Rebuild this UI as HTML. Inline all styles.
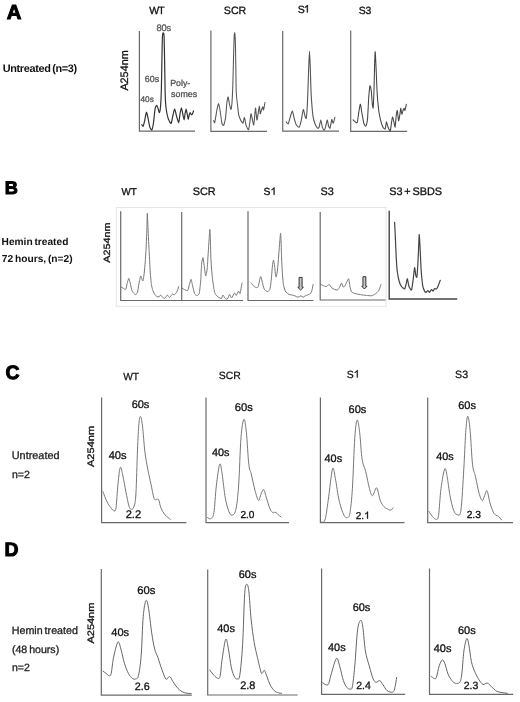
<!DOCTYPE html>
<html><head><meta charset="utf-8"><style>
html,body{margin:0;padding:0;background:#fff;}
svg{display:block;font-family:"Liberation Sans",sans-serif;text-rendering:geometricPrecision;will-change:transform;}
</style></head><body>
<svg width="520" height="702" viewBox="0 0 520 702">
<rect width="520" height="702" fill="#fff"/>
<text x="6.70" y="18.60" font-size="20.27" font-weight="bold" fill="#000" stroke="#000" stroke-width="1.0">A</text>
<text x="149.25" y="13.80" font-size="10.50" font-weight="normal" fill="#111" stroke="#111" stroke-width="0.3" letter-spacing="-0.84">WT</text>
<text x="223.82" y="13.50" font-size="10.60" font-weight="normal" fill="#111" stroke="#111" stroke-width="0.3">SCR</text>
<text x="297.82" y="12.50" font-size="10.50" font-weight="normal" fill="#111" stroke="#111" stroke-width="0.3" letter-spacing="-1.15">S</text>
<polygon points="307.81,12.50 307.81,4.98 307.21,4.98 306.82,5.62 305.98,6.36 304.83,6.88 304.83,7.83 305.77,7.41 306.51,6.93 306.89,6.57 306.89,12.50" fill="#111" stroke="#111" stroke-width="0.3" stroke-linejoin="round"/>
<text x="358.63" y="13.50" font-size="10.41" font-weight="normal" fill="#111" stroke="#111" stroke-width="0.3">S3</text>
<text x="2.65" y="71.60" font-size="10.90" font-weight="bold" fill="#111" letter-spacing="-0.33" word-spacing="-1.0">Untreated (n=3)</text>
<text transform="translate(127.80,90.62) rotate(-90) scale(1.0000,1)" font-size="10.83" font-weight="normal" fill="#111" stroke="#111" stroke-width="0.3">A254nm</text>
<text x="156.50" y="30.60" font-size="9.30" font-weight="normal" fill="#555" stroke="#555" stroke-width="0.3" letter-spacing="-0.18">80s</text>
<text x="144.85" y="82.20" font-size="8.92" font-weight="normal" fill="#555" stroke="#555" stroke-width="0.3">60s</text>
<text x="140.51" y="101.70" font-size="8.24" font-weight="normal" fill="#555" stroke="#555" stroke-width="0.3">40s</text>
<text x="170.28" y="85.80" font-size="8.78" font-weight="normal" fill="#555" stroke="#555" stroke-width="0.3">Poly-</text>
<text x="171.05" y="96.60" font-size="8.88" font-weight="normal" fill="#555" stroke="#555" stroke-width="0.3">somes</text>
<path d="M139.4,31 L139.4,131.1 L195,131.1" fill="none" stroke="#6a6a6a" stroke-width="1.2"/>
<path d="M210.9,30.5 L210.9,131.3 L267,131.3" fill="none" stroke="#6a6a6a" stroke-width="1.2"/>
<path d="M282.7,31 L282.7,131.1 L339,131.1" fill="none" stroke="#6a6a6a" stroke-width="1.2"/>
<path d="M350.7,30.5 L350.7,131.4 L407.2,131.4" fill="none" stroke="#6a6a6a" stroke-width="1.2"/>
<path d="M141.80,124.70 C141.94,124.85 142.90,126.67 143.20,126.20 C143.50,125.73 144.48,121.39 144.80,120.00 C145.12,118.61 146.08,112.50 146.40,112.30 C146.72,112.10 147.66,116.53 148.00,118.00 C148.34,119.47 149.41,125.81 149.80,127.00 C150.19,128.19 151.52,130.40 151.90,129.90 C152.28,129.40 153.29,124.05 153.60,122.00 C153.91,119.95 154.68,111.06 155.00,109.40 C155.32,107.74 156.48,105.44 156.80,105.40 C157.12,105.36 157.94,108.28 158.20,109.00 C158.46,109.72 159.16,112.90 159.40,112.60 C159.64,112.30 160.40,108.46 160.60,106.00 C160.80,103.54 161.26,93.10 161.40,88.00 C161.54,82.90 161.90,60.10 162.00,55.00 C162.10,49.90 162.31,39.18 162.40,37.00 C162.49,34.82 162.78,33.58 162.90,33.20 C163.02,32.82 163.48,32.82 163.60,33.20 C163.72,33.58 164.00,34.32 164.10,37.00 C164.20,39.68 164.50,54.70 164.60,60.00 C164.70,65.30 165.00,85.70 165.10,90.00 C165.20,94.30 165.46,100.90 165.60,103.00 C165.74,105.10 166.26,109.51 166.50,111.00 C166.74,112.49 167.67,116.80 168.00,117.90 C168.33,119.00 169.47,121.46 169.80,122.00 C170.13,122.54 170.98,124.00 171.30,123.30 C171.62,122.60 172.66,116.42 173.00,115.00 C173.34,113.58 174.35,109.00 174.70,109.10 C175.05,109.20 176.10,114.65 176.50,116.00 C176.90,117.35 178.35,122.80 178.70,122.60 C179.05,122.40 179.73,115.48 180.00,114.00 C180.27,112.52 181.12,107.80 181.40,107.80 C181.68,107.80 182.53,112.79 182.80,114.00 C183.07,115.21 183.88,119.90 184.10,119.90 C184.32,119.90 184.80,115.08 185.00,114.00 C185.20,112.92 185.88,109.10 186.10,109.10 C186.32,109.10 186.99,112.99 187.20,114.00 C187.41,115.01 188.00,119.10 188.20,119.20 C188.40,119.30 189.00,115.67 189.20,115.00 C189.40,114.33 190.00,112.55 190.20,112.50 C190.40,112.45 191.00,114.30 191.20,114.50 C191.40,114.70 191.97,114.86 192.20,114.50 C192.43,114.14 193.37,111.26 193.50,110.90" fill="none" stroke="#333" stroke-width="1.2" stroke-linejoin="round" stroke-linecap="round"/>
<path d="M213.75,120.60 C213.85,120.79 214.44,123.56 214.75,122.50 C215.06,121.44 216.53,111.88 216.90,110.00 C217.28,108.12 218.19,103.75 218.50,103.75 C218.81,103.75 219.66,108.06 220.00,110.00 C220.34,111.94 221.53,121.57 221.90,123.10 C222.28,124.62 223.38,125.81 223.75,125.25 C224.12,124.69 225.28,119.78 225.60,117.50 C225.91,115.22 226.65,104.56 226.90,102.50 C227.15,100.44 227.85,96.78 228.10,96.90 C228.35,97.03 229.12,102.50 229.40,103.75 C229.68,105.00 230.65,109.40 230.90,109.40 C231.15,109.40 231.72,105.94 231.90,103.75 C232.09,101.56 232.58,92.38 232.75,87.50 C232.92,82.62 233.45,60.15 233.60,55.00 C233.75,49.85 234.08,38.20 234.20,36.00 C234.31,33.80 234.64,32.60 234.75,33.00 C234.86,33.40 235.20,36.80 235.30,40.00 C235.41,43.20 235.71,59.75 235.80,65.00 C235.90,70.25 236.08,88.50 236.25,92.50 C236.42,96.50 237.25,102.75 237.50,105.00 C237.75,107.25 238.44,113.50 238.75,115.00 C239.06,116.50 240.28,119.31 240.60,120.00 C240.91,120.69 241.65,121.59 241.90,121.90 C242.15,122.21 242.85,123.54 243.10,123.10 C243.35,122.66 244.11,117.31 244.40,117.50 C244.69,117.69 245.59,123.78 246.00,125.00 C246.41,126.22 248.10,130.12 248.50,129.75 C248.90,129.38 249.75,122.85 250.00,121.25 C250.25,119.65 250.75,113.88 251.00,113.75 C251.25,113.62 252.22,118.88 252.50,120.00 C252.78,121.12 253.50,125.75 253.75,125.00 C254.00,124.25 254.81,114.19 255.00,112.50 C255.19,110.81 255.41,107.35 255.60,108.10 C255.79,108.85 256.65,119.44 256.90,120.00 C257.15,120.56 257.85,115.12 258.10,113.75 C258.35,112.38 259.19,106.25 259.40,106.25 C259.61,106.25 260.04,113.38 260.25,113.75 C260.46,114.12 261.25,110.69 261.50,110.00 C261.75,109.31 262.55,106.90 262.75,106.90 C262.95,106.90 263.27,110.44 263.50,110.00 C263.73,109.56 264.85,103.25 265.00,102.50" fill="none" stroke="#555" stroke-width="1.1" stroke-linejoin="round" stroke-linecap="round" stroke-dasharray="1.2 0.5"/>
<path d="M286.20,121.90 C286.41,122.09 287.89,124.31 288.30,123.80 C288.71,123.29 289.89,118.08 290.30,116.80 C290.71,115.52 292.02,110.87 292.40,111.00 C292.78,111.13 293.70,116.69 294.10,118.10 C294.50,119.51 295.89,124.20 296.40,125.10 C296.91,126.00 298.72,127.55 299.20,127.10 C299.68,126.65 300.79,122.36 301.20,120.60 C301.61,118.84 302.92,109.94 303.30,109.50 C303.68,109.06 304.70,115.34 305.00,116.20 C305.30,117.06 306.06,119.32 306.30,118.10 C306.54,116.88 307.22,107.31 307.40,104.00 C307.58,100.69 307.96,88.90 308.10,85.00 C308.24,81.10 308.66,68.38 308.80,65.00 C308.94,61.62 309.36,51.20 309.50,51.20 C309.64,51.20 310.07,61.62 310.20,65.00 C310.33,68.38 310.67,81.50 310.80,85.00 C310.93,88.50 311.27,96.82 311.50,100.00 C311.73,103.18 312.72,114.35 313.10,116.80 C313.48,119.25 314.83,123.35 315.30,124.50 C315.77,125.65 317.42,128.05 317.80,128.30 C318.18,128.55 318.80,127.83 319.10,127.00 C319.40,126.17 320.48,119.99 320.80,120.00 C321.12,120.01 321.96,126.07 322.30,127.10 C322.64,128.13 323.88,130.30 324.20,130.30 C324.52,130.30 325.20,128.13 325.50,127.10 C325.80,126.07 326.90,120.13 327.20,120.00 C327.50,119.87 328.22,124.97 328.50,125.80 C328.78,126.63 329.72,128.69 330.00,128.30 C330.28,127.91 331.11,122.79 331.30,121.90 C331.49,121.01 331.71,119.27 331.90,119.40 C332.09,119.53 332.90,123.40 333.20,123.20 C333.50,123.00 334.73,117.98 334.90,117.40" fill="none" stroke="#555" stroke-width="1.1" stroke-linejoin="round" stroke-linecap="round"/>
<path d="M353.10,119.90 C353.29,120.07 354.59,121.34 355.00,121.60 C355.41,121.86 356.81,123.50 357.20,122.50 C357.59,121.50 358.58,113.43 358.90,111.60 C359.22,109.77 360.08,103.94 360.40,104.20 C360.72,104.46 361.74,112.24 362.10,114.20 C362.46,116.16 363.62,122.62 364.00,123.80 C364.38,124.98 365.55,126.45 365.90,126.00 C366.25,125.55 367.21,122.28 367.50,119.30 C367.79,116.32 368.55,99.56 368.80,96.20 C369.05,92.84 369.75,86.21 370.00,85.70 C370.25,85.19 371.07,89.28 371.30,91.10 C371.53,92.92 372.11,102.23 372.30,103.90 C372.49,105.57 373.03,109.21 373.20,107.80 C373.37,106.39 373.86,94.16 374.00,89.80 C374.14,85.44 374.48,68.01 374.60,64.20 C374.72,60.39 375.07,51.70 375.20,51.70 C375.33,51.70 375.70,60.00 375.90,64.20 C376.10,68.40 376.92,89.09 377.20,93.70 C377.48,98.31 378.35,107.61 378.70,110.30 C379.05,112.99 380.29,118.93 380.70,120.60 C381.11,122.27 382.35,126.17 382.80,127.00 C383.25,127.83 384.84,129.41 385.20,128.90 C385.56,128.39 386.12,122.09 386.40,121.90 C386.68,121.71 387.61,126.11 388.00,127.00 C388.39,127.89 389.94,131.31 390.30,130.80 C390.66,130.29 391.37,123.28 391.60,121.90 C391.83,120.52 392.37,117.00 392.60,117.00 C392.83,117.00 393.65,120.90 393.90,121.90 C394.15,122.90 394.85,127.77 395.10,127.00 C395.35,126.23 396.18,115.84 396.40,114.20 C396.62,112.56 397.08,109.96 397.30,110.60 C397.52,111.24 398.34,120.24 398.60,120.60 C398.86,120.96 399.68,115.42 399.90,114.20 C400.12,112.98 400.61,108.40 400.80,108.40 C400.99,108.40 401.57,114.01 401.80,114.20 C402.03,114.39 402.88,110.88 403.10,110.30 C403.32,109.72 403.81,108.40 404.00,108.40 C404.19,108.40 404.77,110.72 405.00,110.30 C405.23,109.88 406.17,104.81 406.30,104.20" fill="none" stroke="#444" stroke-width="1.1" stroke-linejoin="round" stroke-linecap="round" stroke-dasharray="1.2 0.5"/>
<text x="4.78" y="193.90" font-size="18.20" font-weight="bold" fill="#000" stroke="#000" stroke-width="1.0">B</text>
<text x="121.56" y="195.20" font-size="9.82" font-weight="normal" fill="#111" stroke="#111" stroke-width="0.3">WT</text>
<text x="192.71" y="195.20" font-size="10.89" font-weight="normal" fill="#111" stroke="#111" stroke-width="0.3">SCR</text>
<text x="263.53" y="194.80" font-size="10.36" font-weight="normal" fill="#111" stroke="#111" stroke-width="0.3">S</text>
<polygon points="274.53,194.80 274.53,187.38 273.93,187.38 273.55,188.01 272.72,188.74 271.58,189.26 271.58,190.19 272.51,189.77 273.24,189.31 273.61,188.94 273.61,194.80" fill="#111" stroke="#111" stroke-width="0.3" stroke-linejoin="round"/>
<text x="320.61" y="195.00" font-size="10.85" font-weight="normal" fill="#111" stroke="#111" stroke-width="0.3">S3</text>
<text x="389.21" y="195.00" font-size="10.87" font-weight="normal" fill="#111" stroke="#111" stroke-width="0.3" word-spacing="-1.2">S3 + SBDS</text>
<text x="1.62" y="245.00" font-size="10.16" font-weight="bold" fill="#111" word-spacing="-1.0">Hemin treated</text>
<text x="1.86" y="262.10" font-size="10.20" font-weight="bold" fill="#111" word-spacing="-1.0">72 hours, (n=2)</text>
<text transform="translate(110.20,262.72) rotate(-90) scale(1.1765,1)" font-size="9.16" font-weight="normal" fill="#111" stroke="#111" stroke-width="0.3">A254nm</text>
<rect x="116.2" y="207.5" width="269.8" height="98.8" fill="none" stroke="#e6e6e6" stroke-width="1"/>
<path d="M120.7,211.2 L120.7,300.5 L181,300.5" fill="none" stroke="#6a6a6a" stroke-width="1.2"/>
<path d="M181.7,212 L181.7,300.5 L243,300.5" fill="none" stroke="#6a6a6a" stroke-width="1.2"/>
<path d="M248,211.2 L248,300.5 L313.6,300.5" fill="none" stroke="#6a6a6a" stroke-width="1.2"/>
<path d="M320.2,212 L320.2,300 L385.5,300" fill="none" stroke="#6a6a6a" stroke-width="1.2"/>
<path d="M389.2,210.8 L389.2,299 L457.2,299" fill="none" stroke="#444" stroke-width="1.4"/>
<path d="M120.70,286.70 C120.95,286.85 122.69,287.93 123.20,288.20 C123.71,288.47 125.42,289.84 125.80,289.40 C126.18,288.96 126.70,284.89 127.00,283.80 C127.30,282.71 128.48,278.58 128.80,278.50 C129.12,278.42 129.86,281.73 130.20,283.00 C130.54,284.27 131.70,290.05 132.20,291.20 C132.70,292.35 134.68,294.35 135.20,294.50 C135.72,294.65 137.03,293.77 137.40,292.70 C137.77,291.63 138.57,285.47 138.90,283.80 C139.23,282.13 140.40,276.45 140.70,276.00 C141.00,275.55 141.67,278.82 141.90,279.30 C142.13,279.78 142.77,281.40 143.00,280.80 C143.23,280.20 143.98,275.20 144.20,273.30 C144.42,271.40 145.02,264.08 145.20,261.80 C145.38,259.52 145.87,252.78 146.00,250.50 C146.13,248.22 146.41,241.28 146.50,239.00 C146.59,236.72 146.82,230.27 146.90,227.70 C146.98,225.13 147.19,213.30 147.30,213.30 C147.41,213.30 147.88,225.13 148.00,227.70 C148.12,230.27 148.39,236.72 148.50,239.00 C148.61,241.28 148.98,248.22 149.10,250.50 C149.22,252.78 149.58,259.55 149.70,261.80 C149.82,264.05 150.13,270.73 150.30,273.00 C150.47,275.27 151.17,282.85 151.40,284.50 C151.63,286.15 152.28,288.53 152.60,289.50 C152.92,290.47 154.17,293.50 154.60,294.20 C155.03,294.90 156.45,296.23 156.90,296.50 C157.35,296.77 158.73,297.05 159.10,296.90 C159.47,296.75 160.25,294.97 160.60,295.00 C160.95,295.03 162.20,296.86 162.60,297.20 C163.00,297.54 164.25,298.47 164.60,298.40 C164.95,298.33 165.83,296.84 166.10,296.50 C166.37,296.16 166.95,294.90 167.30,295.00 C167.65,295.10 169.22,297.43 169.60,297.50 C169.98,297.57 170.80,296.06 171.10,295.70 C171.40,295.34 172.30,293.97 172.60,293.90 C172.90,293.83 173.73,295.12 174.10,295.00 C174.47,294.88 175.93,293.23 176.30,292.70 C176.67,292.17 177.57,290.30 177.80,289.70 C178.03,289.10 178.52,287.00 178.60,286.70" fill="none" stroke="#777" stroke-width="1.0" stroke-linejoin="round" stroke-linecap="round"/>
<path d="M182.20,288.20 C182.45,288.35 184.15,289.47 184.70,289.70 C185.25,289.93 187.25,290.94 187.70,290.50 C188.15,290.06 188.87,286.42 189.20,285.30 C189.53,284.18 190.67,279.30 191.00,279.30 C191.33,279.30 192.15,283.88 192.50,285.30 C192.85,286.72 194.08,292.49 194.50,293.50 C194.92,294.51 196.23,295.40 196.70,295.40 C197.17,295.40 198.80,294.96 199.20,293.50 C199.60,292.04 200.46,283.72 200.70,280.80 C200.94,277.88 201.37,266.62 201.60,264.30 C201.83,261.98 202.74,257.45 203.00,257.60 C203.26,257.75 203.93,263.96 204.20,265.80 C204.47,267.64 205.40,275.70 205.70,276.00 C206.00,276.30 206.97,270.80 207.20,268.80 C207.43,266.80 207.84,258.48 208.00,256.00 C208.16,253.52 208.66,246.10 208.80,244.00 C208.94,241.90 209.29,236.46 209.40,235.00 C209.51,233.54 209.80,228.90 209.90,229.40 C210.00,229.90 210.31,237.34 210.40,240.00 C210.49,242.66 210.69,253.20 210.80,256.00 C210.91,258.80 211.33,265.72 211.50,268.00 C211.67,270.28 212.23,276.58 212.50,278.80 C212.77,281.02 213.91,288.66 214.20,290.20 C214.49,291.74 214.98,293.50 215.40,294.20 C215.82,294.90 217.80,296.78 218.40,297.20 C219.00,297.62 220.95,298.62 221.40,298.40 C221.85,298.18 222.53,295.00 222.90,295.00 C223.27,295.00 224.65,298.00 225.10,298.40 C225.55,298.80 226.95,299.39 227.40,299.00 C227.85,298.61 229.19,294.60 229.60,294.50 C230.01,294.40 231.01,298.15 231.50,298.00 C231.99,297.85 234.02,293.26 234.50,293.00 C234.98,292.74 235.89,295.58 236.30,295.40 C236.71,295.22 238.22,291.39 238.60,291.20 C238.98,291.01 239.76,294.32 240.10,293.50 C240.44,292.68 241.81,284.05 242.00,283.00" fill="none" stroke="#777" stroke-width="1.0" stroke-linejoin="round" stroke-linecap="round"/>
<path d="M251.20,283.00 C251.41,283.26 252.82,285.15 253.30,285.60 C253.78,286.05 255.51,287.38 256.00,287.50 C256.49,287.62 257.83,287.62 258.20,286.80 C258.57,285.98 259.43,280.32 259.70,279.30 C259.97,278.28 260.64,276.30 260.90,276.60 C261.16,276.90 261.97,281.06 262.30,282.30 C262.63,283.54 263.71,288.07 264.20,289.00 C264.69,289.93 266.65,291.52 267.20,291.60 C267.75,291.68 269.34,290.56 269.70,289.80 C270.06,289.04 270.61,285.38 270.80,284.00 C270.99,282.62 271.44,277.80 271.60,276.00 C271.76,274.20 272.21,267.59 272.40,266.00 C272.59,264.41 273.28,260.10 273.50,260.10 C273.72,260.10 274.42,264.71 274.60,266.00 C274.78,267.29 275.15,271.89 275.30,273.00 C275.45,274.11 275.91,277.20 276.10,277.10 C276.29,277.00 276.99,273.51 277.20,272.00 C277.41,270.49 278.01,264.20 278.20,262.00 C278.39,259.80 278.93,252.20 279.10,250.00 C279.27,247.80 279.75,241.68 279.90,240.00 C280.05,238.32 280.48,233.00 280.60,233.20 C280.72,233.40 281.00,239.52 281.10,242.00 C281.20,244.48 281.48,255.00 281.60,258.00 C281.72,261.00 282.11,269.27 282.30,272.00 C282.49,274.73 283.14,283.30 283.50,285.30 C283.86,287.30 285.36,291.10 285.90,292.00 C286.44,292.90 288.30,294.00 288.90,294.30 C289.50,294.60 291.30,294.85 291.90,295.00 C292.50,295.15 294.30,295.58 294.90,295.80 C295.50,296.02 297.30,297.20 297.90,297.20 C298.50,297.20 300.38,295.80 300.90,295.80 C301.42,295.80 302.66,297.20 303.10,297.20 C303.54,297.20 304.85,296.02 305.30,295.80 C305.75,295.58 307.07,295.23 307.60,295.00 C308.13,294.77 310.15,294.02 310.60,293.50 C311.05,292.98 311.85,290.70 312.10,289.80 C312.35,288.90 313.00,285.03 313.10,284.50" fill="none" stroke="#777" stroke-width="1.0" stroke-linejoin="round" stroke-linecap="round"/>
<path d="M320.20,283.80 C320.43,283.96 321.89,285.13 322.50,285.40 C323.11,285.67 325.64,286.58 326.30,286.50 C326.96,286.42 328.56,284.48 329.10,284.60 C329.64,284.72 331.13,287.21 331.70,287.70 C332.27,288.19 334.23,289.27 334.80,289.50 C335.37,289.73 336.94,290.18 337.40,290.00 C337.86,289.82 339.00,288.39 339.40,287.70 C339.80,287.01 341.02,283.18 341.40,283.10 C341.78,283.02 342.86,286.59 343.20,286.90 C343.54,287.21 344.49,286.58 344.80,286.20 C345.11,285.82 345.92,283.84 346.30,283.10 C346.68,282.36 348.21,278.34 348.60,278.80 C348.99,279.26 349.89,286.38 350.20,287.70 C350.51,289.02 351.24,291.42 351.70,292.00 C352.16,292.58 353.95,293.24 354.80,293.50 C355.65,293.76 359.05,294.41 360.20,294.60 C361.35,294.79 365.15,295.29 366.30,295.40 C367.45,295.51 370.78,295.86 371.70,295.70 C372.62,295.54 374.81,294.29 375.50,293.80 C376.19,293.31 378.13,291.49 378.60,290.80 C379.07,290.11 379.97,287.52 380.20,286.90 C380.43,286.28 380.83,284.83 380.90,284.60" fill="none" stroke="#777" stroke-width="1.0" stroke-linejoin="round" stroke-linecap="round"/>
<path d="M394.60,222.30 C394.68,223.92 395.24,235.04 395.40,238.50 C395.56,241.96 396.02,253.67 396.20,256.90 C396.38,260.13 396.90,268.34 397.20,270.80 C397.50,273.26 398.77,279.93 399.20,281.50 C399.63,283.07 400.96,285.76 401.50,286.50 C402.04,287.24 404.13,289.17 404.60,288.90 C405.07,288.63 405.92,284.81 406.20,283.80 C406.48,282.79 407.13,278.56 407.40,278.80 C407.67,279.04 408.49,285.08 408.90,286.20 C409.31,287.32 411.08,290.62 411.50,290.00 C411.92,289.38 412.79,282.23 413.10,280.00 C413.41,277.77 414.33,268.16 414.60,267.70 C414.87,267.24 415.57,274.48 415.80,275.40 C416.03,276.32 416.68,278.29 416.90,276.90 C417.12,275.51 417.81,264.88 418.00,261.50 C418.19,258.12 418.68,245.79 418.80,243.10 C418.92,240.41 419.08,234.29 419.20,234.60 C419.32,234.91 419.81,242.74 420.00,246.20 C420.19,249.66 420.82,265.20 421.10,269.20 C421.38,273.20 422.45,284.01 422.80,286.20 C423.15,288.39 424.26,290.49 424.60,291.10 C424.94,291.71 425.86,292.36 426.20,292.30 C426.54,292.24 427.67,290.50 428.00,290.50 C428.33,290.50 429.15,292.40 429.50,292.30 C429.85,292.20 431.14,289.62 431.50,289.50 C431.86,289.38 432.79,291.20 433.10,291.10 C433.41,291.00 434.29,288.69 434.60,288.50 C434.91,288.31 435.89,289.36 436.20,289.20 C436.51,289.04 437.40,287.51 437.70,286.90 C438.00,286.29 438.94,283.76 439.20,283.10 C439.46,282.44 440.19,280.58 440.30,280.30" fill="none" stroke="#444" stroke-width="1.2" stroke-linejoin="round" stroke-linecap="round"/>
<path d="M299.10,277.4 L302.10,277.4 L302.10,287.3 L303.40,287.3 L300.60,290.0 L297.80,287.3 L299.10,287.3 Z" fill="#c8c8c8" stroke="#333" stroke-width="1.0" stroke-linejoin="miter"/>
<path d="M362.95,276.7 L365.85,276.7 L365.85,286.3 L367.00,286.3 L364.40,289.0 L361.80,286.3 L362.95,286.3 Z" fill="#c8c8c8" stroke="#333" stroke-width="1.0" stroke-linejoin="miter"/>
<text x="5.50" y="378.90" font-size="19.40" font-weight="bold" fill="#000" stroke="#000" stroke-width="1.0">C</text>
<text x="123.16" y="379.90" font-size="10.21" font-weight="normal" fill="#111" stroke="#111" stroke-width="0.25">WT</text>
<text x="218.73" y="378.60" font-size="10.45" font-weight="normal" fill="#111" stroke="#111" stroke-width="0.25">SCR</text>
<text x="346.63" y="377.60" font-size="10.45" font-weight="normal" fill="#111" stroke="#111" stroke-width="0.25">S</text>
<polygon points="357.72,377.60 357.72,370.12 357.12,370.12 356.73,370.75 355.90,371.49 354.75,372.01 354.75,372.95 355.69,372.53 356.42,372.06 356.80,371.69 356.80,377.60" fill="#111" stroke="#111" stroke-width="0.25" stroke-linejoin="round"/>
<text x="455.12" y="377.90" font-size="10.58" font-weight="normal" fill="#111" stroke="#111" stroke-width="0.25">S3</text>
<text x="11.76" y="458.80" font-size="10.89" font-weight="normal" fill="#222" stroke="#222" stroke-width="0.3">Untreated</text>
<text x="11.90" y="478.20" font-size="10.57" font-weight="normal" fill="#222" stroke="#222" stroke-width="0.3">n=2</text>
<text transform="translate(94.00,467.02) rotate(-90) scale(1.1628,1)" font-size="9.52" font-weight="normal" fill="#111" stroke="#111" stroke-width="0.3">A254nm</text>
<text x="131.64" y="408.00" font-size="11.01" font-weight="normal" fill="#111" stroke="#111" stroke-width="0.3">60s</text>
<text x="108.64" y="458.90" font-size="11.14" font-weight="normal" fill="#111" stroke="#111" stroke-width="0.3">40s</text>
<text x="125.64" y="517.70" font-size="11.17" font-weight="normal" fill="#111" stroke="#111" stroke-width="0.3">2.2</text>
<text x="234.73" y="411.40" font-size="11.21" font-weight="normal" fill="#111" stroke="#111" stroke-width="0.3">60s</text>
<text x="212.05" y="455.70" font-size="10.82" font-weight="normal" fill="#111" stroke="#111" stroke-width="0.3">40s</text>
<text x="240.39" y="518.00" font-size="10.15" font-weight="normal" fill="#111" stroke="#111" stroke-width="0.3">2.0</text>
<text x="348.54" y="413.30" font-size="11.01" font-weight="normal" fill="#111" stroke="#111" stroke-width="0.3">60s</text>
<text x="324.55" y="462.30" font-size="10.88" font-weight="normal" fill="#111" stroke="#111" stroke-width="0.3">40s</text>
<text x="355.80" y="518.70" font-size="9.91" font-weight="normal" fill="#111" stroke="#111" stroke-width="0.3">2.</text>
<polygon points="367.98,518.70 367.98,511.60 367.41,511.60 367.04,512.21 366.25,512.90 365.16,513.40 365.16,514.29 366.05,513.89 366.75,513.45 367.10,513.10 367.10,518.70" fill="#111" stroke="#111" stroke-width="0.3" stroke-linejoin="round"/>
<text x="458.24" y="408.50" font-size="11.01" font-weight="normal" fill="#111" stroke="#111" stroke-width="0.3">60s</text>
<text x="436.25" y="459.80" font-size="10.82" font-weight="normal" fill="#111" stroke="#111" stroke-width="0.3">40s</text>
<text x="466.68" y="518.00" font-size="10.26" font-weight="normal" fill="#111" stroke="#111" stroke-width="0.3">2.3</text>
<path d="M101.6,397.6 L101.6,522.6 L186.4,522.6" fill="none" stroke="#6a6a6a" stroke-width="1.2"/>
<path d="M206,397.6 L206,522.6 L289,522.6" fill="none" stroke="#6a6a6a" stroke-width="1.2"/>
<path d="M320.4,397.6 L320.4,522.6 L404.5,522.6" fill="none" stroke="#6a6a6a" stroke-width="1.2"/>
<path d="M427.7,397.6 L427.7,522.6 L513,522.6" fill="none" stroke="#6a6a6a" stroke-width="1.2"/>
<path d="M103.00,491.80 C103.67,493.47 105.67,499.13 107.00,501.80 C108.33,504.47 109.83,506.30 111.00,507.80 C112.17,509.30 113.17,510.80 114.00,510.80 C114.83,510.80 115.33,512.30 116.00,507.80 C116.67,503.30 117.28,490.53 118.00,483.80 C118.72,477.07 119.48,468.73 120.30,467.40 C121.12,466.07 121.97,471.73 122.90,475.80 C123.83,479.87 124.90,486.80 125.90,491.80 C126.90,496.80 128.07,502.90 128.90,505.80 C129.73,508.70 130.07,509.03 130.90,509.20 C131.73,509.37 133.07,509.37 133.90,506.80 C134.73,504.23 135.30,503.28 135.90,493.80 C136.50,484.32 137.00,461.55 137.50,449.90 C138.00,438.25 138.40,429.47 138.90,423.90 C139.40,418.33 139.90,416.17 140.50,416.50 C141.10,416.83 141.77,420.00 142.50,425.90 C143.23,431.80 144.00,444.58 144.90,451.90 C145.80,459.22 146.90,464.48 147.90,469.80 C148.90,475.12 149.90,479.13 150.90,483.80 C151.90,488.47 153.07,495.13 153.90,497.80 C154.73,500.47 155.13,499.53 155.90,499.80 C156.67,500.07 157.67,498.07 158.50,499.40 C159.33,500.73 159.83,505.25 160.90,507.80 C161.97,510.35 163.32,512.78 164.90,514.70 C166.48,516.62 169.48,518.53 170.40,519.30" fill="none" stroke="#777" stroke-width="1.0" stroke-linejoin="round" stroke-linecap="round"/>
<path d="M207.60,517.50 C208.12,517.70 209.65,519.50 210.70,518.70 C211.75,517.90 212.97,518.15 213.90,512.70 C214.83,507.25 215.33,494.08 216.30,486.00 C217.27,477.92 218.73,466.22 219.70,464.20 C220.67,462.18 221.17,468.25 222.10,473.90 C223.03,479.55 224.17,491.85 225.30,498.10 C226.43,504.35 227.82,508.57 228.90,511.40 C229.98,514.23 230.67,515.30 231.80,515.10 C232.93,514.90 234.57,515.05 235.70,510.20 C236.83,505.35 237.72,498.12 238.60,486.00 C239.48,473.88 240.12,448.60 241.00,437.50 C241.88,426.40 243.00,420.20 243.90,419.40 C244.80,418.60 245.58,425.23 246.40,432.70 C247.22,440.17 248.00,457.33 248.80,464.20 C249.60,471.07 250.15,469.47 251.20,473.90 C252.25,478.33 253.88,486.37 255.10,490.80 C256.32,495.23 257.53,499.88 258.50,500.50 C259.47,501.12 260.05,496.32 260.90,494.50 C261.75,492.68 262.67,489.00 263.60,489.60 C264.53,490.20 265.42,494.87 266.50,498.10 C267.58,501.33 269.02,506.57 270.10,509.00 C271.18,511.43 272.18,512.17 273.00,512.70 C273.82,513.23 274.27,512.00 275.00,512.20 C275.73,512.40 276.40,513.10 277.40,513.90 C278.40,514.70 280.40,516.48 281.00,517.00" fill="none" stroke="#777" stroke-width="1.0" stroke-linejoin="round" stroke-linecap="round"/>
<path d="M321.60,521.90 C322.17,521.57 323.90,523.47 325.00,519.90 C326.10,516.33 326.95,508.98 328.20,500.50 C329.45,492.02 331.30,472.63 332.50,469.00 C333.70,465.37 334.30,473.45 335.40,478.70 C336.50,483.95 337.68,494.43 339.10,500.50 C340.52,506.57 342.48,512.27 343.90,515.10 C345.32,517.93 346.58,517.90 347.60,517.50 C348.62,517.10 349.20,517.55 350.00,512.70 C350.80,507.85 351.60,500.93 352.40,488.40 C353.20,475.87 354.00,448.88 354.80,437.50 C355.60,426.12 356.38,420.90 357.20,420.10 C358.02,419.30 358.88,426.17 359.70,432.70 C360.52,439.23 361.10,452.83 362.10,459.30 C363.10,465.77 364.48,466.65 365.70,471.50 C366.92,476.35 368.27,484.37 369.40,488.40 C370.53,492.43 371.30,495.78 372.50,495.70 C373.70,495.62 375.30,487.10 376.60,487.90 C377.90,488.70 379.08,497.38 380.30,500.50 C381.52,503.62 382.70,505.18 383.90,506.60 C385.10,508.02 386.37,508.40 387.50,509.00 C388.63,509.60 389.80,510.40 390.70,510.20 C391.60,510.00 392.53,508.20 392.90,507.80" fill="none" stroke="#777" stroke-width="1.0" stroke-linejoin="round" stroke-linecap="round"/>
<path d="M428.90,511.40 C429.47,512.22 431.08,514.97 432.30,516.30 C433.52,517.63 435.15,519.60 436.20,519.40 C437.25,519.20 437.80,520.27 438.60,515.10 C439.40,509.93 439.98,496.08 441.00,488.40 C442.02,480.72 443.68,471.02 444.70,469.00 C445.72,466.98 446.22,471.85 447.10,476.30 C447.98,480.75 448.92,490.05 450.00,495.70 C451.08,501.35 452.40,507.05 453.60,510.20 C454.80,513.35 455.98,514.60 457.20,514.60 C458.42,514.60 459.80,517.80 460.90,510.20 C462.00,502.60 463.00,481.92 463.80,469.00 C464.60,456.08 465.05,441.50 465.70,432.70 C466.35,423.90 466.97,416.60 467.70,416.20 C468.43,415.80 469.30,422.30 470.10,430.30 C470.90,438.30 471.62,456.53 472.50,464.20 C473.38,471.87 474.30,471.45 475.40,476.30 C476.50,481.15 477.97,489.27 479.10,493.30 C480.23,497.33 481.28,500.10 482.20,500.50 C483.12,500.90 483.78,497.32 484.60,495.70 C485.42,494.08 486.20,489.58 487.10,490.80 C488.00,492.02 488.92,499.35 490.00,503.00 C491.08,506.65 492.60,510.68 493.60,512.70 C494.60,514.72 495.20,514.50 496.00,515.10 C496.80,515.70 497.47,515.50 498.40,516.30 C499.33,517.10 501.07,519.30 501.60,519.90" fill="none" stroke="#777" stroke-width="1.0" stroke-linejoin="round" stroke-linecap="round"/>
<text x="4.50" y="556.10" font-size="19.40" font-weight="bold" fill="#000" stroke="#000" stroke-width="1.0">D</text>
<text x="11.72" y="634.20" font-size="10.71" font-weight="normal" fill="#222" stroke="#222" stroke-width="0.3" word-spacing="-1.0">Hemin treated</text>
<text x="11.94" y="653.00" font-size="10.58" font-weight="normal" fill="#222" stroke="#222" stroke-width="0.3" word-spacing="-1.0">(48 hours)</text>
<text x="11.90" y="671.30" font-size="10.57" font-weight="normal" fill="#222" stroke="#222" stroke-width="0.3">n=2</text>
<text transform="translate(93.90,643.52) rotate(-90) scale(1.1765,1)" font-size="9.32" font-weight="normal" fill="#111" stroke="#111" stroke-width="0.3">A254nm</text>
<text x="137.23" y="594.00" font-size="11.28" font-weight="normal" fill="#111" stroke="#111" stroke-width="0.3">60s</text>
<text x="111.25" y="635.90" font-size="11.07" font-weight="normal" fill="#111" stroke="#111" stroke-width="0.3">40s</text>
<text x="134.86" y="689.60" font-size="10.80" font-weight="normal" fill="#111" stroke="#111" stroke-width="0.3">2.6</text>
<text x="238.74" y="578.00" font-size="10.95" font-weight="normal" fill="#111" stroke="#111" stroke-width="0.3">60s</text>
<text x="217.25" y="631.90" font-size="10.94" font-weight="normal" fill="#111" stroke="#111" stroke-width="0.3">40s</text>
<text x="240.25" y="689.00" font-size="10.95" font-weight="normal" fill="#111" stroke="#111" stroke-width="0.3">2.8</text>
<text x="352.64" y="611.40" font-size="11.01" font-weight="normal" fill="#111" stroke="#111" stroke-width="0.3">60s</text>
<text x="328.05" y="650.50" font-size="10.88" font-weight="normal" fill="#111" stroke="#111" stroke-width="0.3">40s</text>
<text x="356.27" y="689.00" font-size="10.53" font-weight="normal" fill="#111" stroke="#111" stroke-width="0.3">2.4</text>
<text x="457.94" y="633.60" font-size="11.01" font-weight="normal" fill="#111" stroke="#111" stroke-width="0.3">60s</text>
<text x="433.75" y="652.00" font-size="10.94" font-weight="normal" fill="#111" stroke="#111" stroke-width="0.3">40s</text>
<text x="463.67" y="689.00" font-size="10.49" font-weight="normal" fill="#111" stroke="#111" stroke-width="0.3">2.3</text>
<path d="M101.3,569.1 L101.3,695.1 L191.8,695.1" fill="none" stroke="#6a6a6a" stroke-width="1.2"/>
<path d="M207.7,569.5 L207.7,695 L297.6,695" fill="none" stroke="#6a6a6a" stroke-width="1.2"/>
<path d="M321.6,568.5 L321.6,694.4 L405.2,694.4" fill="none" stroke="#6a6a6a" stroke-width="1.2"/>
<path d="M429.5,568.5 L429.5,694.4 L513.2,694.4" fill="none" stroke="#6a6a6a" stroke-width="1.2"/>
<path d="M103.10,671.30 C103.60,671.65 105.08,672.65 106.10,673.40 C107.12,674.15 108.35,675.80 109.20,675.80 C110.05,675.80 110.47,676.50 111.20,673.40 C111.93,670.30 112.48,662.43 113.60,657.20 C114.72,651.97 116.68,643.35 117.90,642.00 C119.12,640.65 119.82,645.57 120.90,649.10 C121.98,652.63 123.15,659.15 124.40,663.20 C125.65,667.25 127.07,670.87 128.40,673.40 C129.73,675.93 131.22,677.47 132.40,678.40 C133.58,679.33 134.48,679.50 135.50,679.00 C136.52,678.50 137.55,679.38 138.50,675.40 C139.45,671.42 140.42,664.88 141.20,655.10 C141.98,645.32 142.40,625.80 143.20,616.70 C144.00,607.60 145.10,601.85 146.00,600.50 C146.90,599.15 147.65,603.20 148.60,608.60 C149.55,614.00 150.68,626.15 151.70,632.90 C152.72,639.65 153.68,645.05 154.70,649.10 C155.72,653.15 156.62,653.83 157.80,657.20 C158.98,660.57 160.45,665.67 161.80,669.30 C163.15,672.93 164.82,677.65 165.90,679.00 C166.98,680.35 167.57,677.73 168.30,677.40 C169.03,677.07 169.53,676.32 170.30,677.00 C171.07,677.68 171.62,679.58 172.90,681.50 C174.18,683.42 176.13,686.65 178.00,688.50 C179.87,690.35 181.90,691.75 184.10,692.60 C186.30,693.45 190.02,693.43 191.20,693.60" fill="none" stroke="#666" stroke-width="1.0" stroke-linejoin="round" stroke-linecap="round"/>
<path d="M209.80,670.00 C210.33,670.70 211.77,672.87 213.00,674.20 C214.23,675.53 216.03,677.63 217.20,678.00 C218.37,678.37 219.18,679.50 220.00,676.40 C220.82,673.30 221.15,665.58 222.10,659.40 C223.05,653.22 224.65,641.05 225.70,639.30 C226.75,637.55 227.45,644.13 228.40,648.90 C229.35,653.67 230.33,663.15 231.40,667.90 C232.47,672.65 233.82,675.57 234.80,677.40 C235.78,679.23 236.47,679.25 237.30,678.90 C238.13,678.55 238.92,681.02 239.80,675.30 C240.68,669.58 241.78,658.18 242.60,644.60 C243.42,631.02 244.00,603.85 244.70,593.80 C245.40,583.75 246.10,584.65 246.80,584.30 C247.50,583.95 248.18,585.88 248.90,591.70 C249.62,597.52 250.22,610.73 251.10,619.20 C251.98,627.67 253.15,636.15 254.20,642.50 C255.25,648.85 256.27,652.37 257.40,657.30 C258.53,662.23 260.18,669.45 261.00,672.10 C261.82,674.75 261.73,673.48 262.30,673.20 C262.87,672.92 263.63,669.87 264.40,670.40 C265.17,670.93 265.95,674.00 266.90,676.40 C267.85,678.80 268.87,682.42 270.10,684.80 C271.33,687.18 272.88,689.35 274.30,690.70 C275.72,692.05 277.37,692.47 278.60,692.90 C279.83,693.33 281.18,693.23 281.70,693.30" fill="none" stroke="#666" stroke-width="1.0" stroke-linejoin="round" stroke-linecap="round"/>
<path d="M322.70,682.70 C323.23,683.05 324.92,684.62 325.90,684.80 C326.88,684.98 327.72,685.57 328.60,683.80 C329.48,682.03 329.90,678.43 331.20,674.20 C332.50,669.97 335.00,659.80 336.40,658.40 C337.80,657.00 338.43,662.10 339.60,665.80 C340.77,669.50 342.17,676.97 343.40,680.60 C344.63,684.23 345.93,686.20 347.00,687.60 C348.07,689.00 348.92,689.12 349.80,689.00 C350.68,688.88 351.47,690.77 352.30,686.90 C353.13,683.03 353.92,675.32 354.80,665.80 C355.68,656.28 356.60,637.38 357.60,629.80 C358.60,622.22 359.92,620.65 360.80,620.30 C361.68,619.95 362.13,622.58 362.90,627.70 C363.67,632.82 364.35,644.65 365.40,651.00 C366.45,657.35 367.93,661.22 369.20,665.80 C370.47,670.38 371.87,675.75 373.00,678.50 C374.13,681.25 374.87,681.95 376.00,682.30 C377.13,682.65 378.63,680.18 379.80,680.60 C380.97,681.02 381.77,683.12 383.00,684.80 C384.23,686.48 385.62,689.47 387.20,690.70 C388.78,691.93 391.27,692.48 392.50,692.20 C393.73,691.92 393.90,691.47 394.60,689.00 C395.30,686.53 396.35,679.33 396.70,677.40" fill="none" stroke="#666" stroke-width="1.0" stroke-linejoin="round" stroke-linecap="round"/>
<path d="M431.20,676.40 C431.72,676.75 433.43,678.33 434.30,678.50 C435.17,678.67 435.58,679.52 436.40,677.40 C437.22,675.28 438.20,668.72 439.20,665.80 C440.20,662.88 441.45,660.25 442.40,659.90 C443.35,659.55 443.95,661.32 444.90,663.70 C445.85,666.08 446.93,671.38 448.10,674.20 C449.27,677.02 450.67,679.08 451.90,680.60 C453.13,682.12 454.20,683.02 455.50,683.30 C456.80,683.58 458.65,683.82 459.70,682.30 C460.75,680.78 461.10,679.42 461.80,674.20 C462.50,668.98 463.08,656.92 463.90,651.00 C464.72,645.08 465.88,639.77 466.70,638.70 C467.52,637.63 468.02,640.80 468.80,644.60 C469.58,648.40 470.45,657.08 471.40,661.50 C472.35,665.92 473.27,668.10 474.50,671.10 C475.73,674.10 477.38,677.28 478.80,679.50 C480.22,681.72 481.60,683.80 483.00,684.40 C484.40,685.00 485.80,682.75 487.20,683.10 C488.60,683.45 489.98,685.23 491.40,686.50 C492.82,687.77 494.28,689.75 495.70,690.70 C497.12,691.65 498.50,691.83 499.90,692.20 C501.30,692.57 502.87,692.72 504.10,692.90 C505.33,693.08 506.77,693.23 507.30,693.30" fill="none" stroke="#666" stroke-width="1.0" stroke-linejoin="round" stroke-linecap="round"/>
</svg>
</body></html>
